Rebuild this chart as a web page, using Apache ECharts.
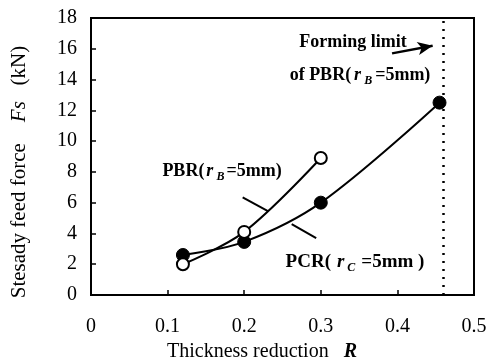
<!DOCTYPE html>
<html lang="en">
<head>
    <meta charset="UTF-8">
    <title>Steady feed force</title>
    <script type="text/javascript" src="https://cdn.jsdelivr.net/npm/echarts@6/dist/echarts.min.js"></script>
    <style>
        html, body { margin: 0; padding: 0; background: #fff; }
    </style>
</head>
<body>
    <div id="main" style="width: 491px;height:363px;"></div>
    <script type="text/javascript">
        // thickness reduction R
        var pbrR = [0.12, 0.2, 0.3];
        var pbrForce = [2.0, 4.1, 8.9];
        var pcrR = [0.12, 0.2, 0.3, 0.455];
        var pcrForce = [2.6, 3.45, 6.0, 12.5];
        var formingLimit = 0.455;
        var yTicks = [0, 2, 4, 6, 8, 10, 12, 14, 16, 18];
        var xTicks = [0, 0.1, 0.2, 0.3, 0.4, 0.5];

        function pairs(xs, ys) {
            return xs.map(function (x, i) { return [x, ys[i]]; });
        }

        var serif = 'Liberation Serif';
        // rich styles for the r_B / r_C labels
        function labelRich(size, gap) {
            return {
                i: { fontStyle: 'italic', fontWeight: 'bold', fontFamily: serif, fontSize: size, padding: [0, 1, 0, gap] },
                s: { fontStyle: 'italic', fontWeight: 'bold', fontFamily: serif, fontSize: 12, padding: [11, gap, 0, 2] }
            };
        }

        var myChart = echarts.init(document.getElementById('main'));

        var option = {
            animation: false,
            grid: {
                left: 91, right: 17, top: 18, bottom: 68,
                show: true, borderColor: '#000', borderWidth: 2,
                containLabel: false
            },
            xAxis: {
                type: 'value',
                min: xTicks[0], max: xTicks[xTicks.length - 1], interval: 0.1,
                axisLine: { lineStyle: { color: '#000', width: 2 } },
                axisTick: { inside: true, length: 5, lineStyle: { color: '#000', width: 1.5 } },
                splitLine: { show: false },
                axisLabel: {
                    margin: 22, color: '#000', fontFamily: serif, fontSize: 20,
                    formatter: function (v) { return String(Math.round(v * 10) / 10); }
                }
            },
            yAxis: {
                type: 'value',
                min: yTicks[0], max: yTicks[yTicks.length - 1], interval: 2,
                axisLine: { lineStyle: { color: '#000', width: 2 } },
                axisTick: { inside: true, length: 5, lineStyle: { color: '#000', width: 1.5 } },
                splitLine: { show: false },
                axisLabel: { margin: 14, color: '#000', fontFamily: serif, fontSize: 20 }
            },
            series: [
                {
                    name: 'PBR',
                    type: 'line',
                    smooth: 0.35,
                    data: pairs(pbrR, pbrForce),
                    symbol: 'circle',
                    symbolSize: 12,
                    z: 3,
                    lineStyle: { color: '#000', width: 2 },
                    itemStyle: { color: '#fff', borderColor: '#000', borderWidth: 2 }
                },
                {
                    name: 'PCR',
                    type: 'line',
                    smooth: 0.35,
                    data: pairs(pcrR, pcrForce),
                    symbol: 'circle',
                    symbolSize: 13,
                    z: 2,
                    lineStyle: { color: '#000', width: 2 },
                    itemStyle: { color: '#000', borderColor: '#000', borderWidth: 1 },
                    markLine: {
                        silent: true,
                        label: { show: false },
                        symbol: ['none', 'none'],
                        lineStyle: { color: '#000', width: 2.5, type: [2, 6] },
                        data: [{ xAxis: formingLimit }]
                    }
                },
                {
                    // leader lines and arrow
                    type: 'line',
                    data: [],
                    markLine: {
                        silent: true,
                        label: { show: false },
                        symbol: ['none', 'none'],
                        lineStyle: { color: '#000', width: 2, type: 'solid' },
                        data: [
                            [{ coord: [0.198, 6.35] }, { coord: [0.231, 5.45] }],
                            [{ coord: [0.262, 4.6] }, { coord: [0.294, 3.7] }],
                            [{ coord: [0.393, 15.7], symbol: 'none' },
                             { coord: [0.446, 16.2], symbol: 'arrow', symbolSize: [10, 15], lineStyle: { width: 2.5 } }]
                        ]
                    }
                }
            ],
            graphic: [
                {
                    type: 'text', x: 19, y: 172, rotation: Math.PI / 2,
                    style: {
                        text: 'Stesady feed force    {i|Fs}   (kN)',
                        font: '21px "Liberation Serif"',
                        fill: '#000', align: 'center', verticalAlign: 'middle',
                        rich: { i: { fontStyle: 'italic', fontFamily: serif, fontSize: 21 } }
                    }
                },
                {
                    type: 'text', x: 262, y: 352,
                    style: {
                        text: 'Thickness reduction   {i|R}',
                        font: '20px "Liberation Serif"',
                        fill: '#000', align: 'center', verticalAlign: 'middle',
                        rich: { i: { fontStyle: 'italic', fontWeight: 'bold', fontFamily: serif, fontSize: 20 } }
                    }
                },
                {
                    type: 'text', x: 353, y: 42,
                    style: {
                        text: 'Forming limit',
                        font: 'bold 18px "Liberation Serif"',
                        fill: '#000', align: 'center', verticalAlign: 'middle'
                    }
                },
                {
                    type: 'text', x: 360, y: 75,
                    style: {
                        text: 'of PBR({i|r}{s|B}=5mm)',
                        font: 'bold 18px "Liberation Serif"',
                        fill: '#000', align: 'center', verticalAlign: 'middle',
                        rich: labelRich(18, 3)
                    }
                },
                {
                    type: 'text', x: 222, y: 171,
                    style: {
                        text: 'PBR({i|r}{s|B}=5mm)',
                        font: 'bold 18px "Liberation Serif"',
                        fill: '#000', align: 'center', verticalAlign: 'middle',
                        rich: labelRich(18, 2)
                    }
                },
                {
                    type: 'text', x: 355, y: 262,
                    style: {
                        text: 'PCR({i|r}{s|C}=5mm )',
                        font: 'bold 19px "Liberation Serif"',
                        fill: '#000', align: 'center', verticalAlign: 'middle',
                        rich: labelRich(19, 6)
                    }
                }
            ]
        };

        myChart.setOption(option);
    </script>
</body>
</html>
